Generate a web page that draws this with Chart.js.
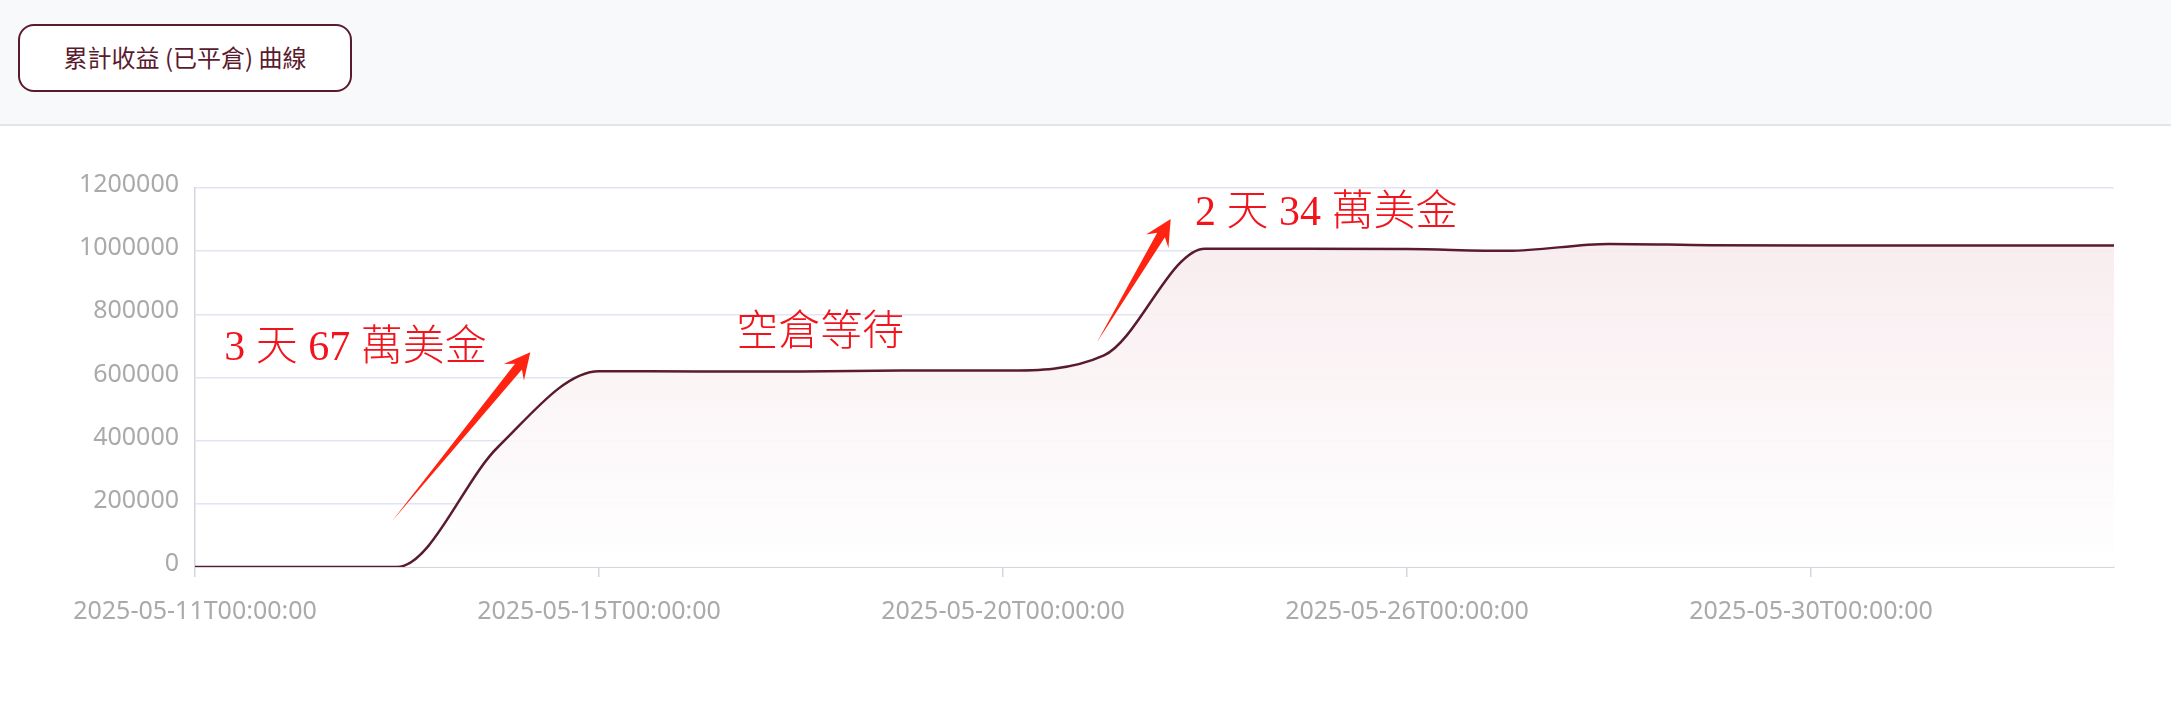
<!DOCTYPE html>
<html lang="zh-Hant">
<head>
<meta charset="utf-8">
<title>累計收益 (已平倉) 曲線</title>
<script src="https://cdn.jsdelivr.net/npm/chart.js@4.4.1/dist/chart.umd.min.js"></script>
<style>
  html, body { margin: 0; padding: 0; background: #fff; }
  body {
    width: 2171px; height: 713px; overflow: hidden; position: relative;
    font-family: "Noto Sans CJK TC", "Noto Sans", sans-serif;
  }
  .topbar {
    position: absolute; left: 0; top: 0; width: 2171px; height: 124px;
    background: #f8f9fb; border-bottom: 2px solid #e1e4e9;
  }
  .tab {
    position: absolute; left: 18px; top: 24px; width: 334px; height: 68px;
    box-sizing: border-box; border: 2px solid #5a1b2e; border-radius: 16px;
    background: #fff; color: #5a1b2e; font-size: 24px; line-height: 62px;
    text-align: center;
  }
  .chart-box { position: absolute; left: 0; top: 127px; width: 2171px; height: 586px; }
</style>
</head>
<body>
<div class="topbar"><div class="tab">累計收益 (已平倉) 曲線</div></div>
<div class="chart-box"><canvas id="pnlChart"></canvas></div>

<script>
// dates on the x axis (category labels)
const dates = [
    "2025-05-11T00:00:00", "2025-05-12T00:00:00", "2025-05-13T00:00:00", "2025-05-14T00:00:00",
    "2025-05-15T00:00:00", "2025-05-16T00:00:00", "2025-05-18T00:00:00", "2025-05-19T00:00:00",
    "2025-05-20T00:00:00", "2025-05-21T00:00:00", "2025-05-22T00:00:00", "2025-05-23T00:00:00",
    "2025-05-26T00:00:00", "2025-05-27T00:00:00", "2025-05-28T00:00:00", "2025-05-29T00:00:00",
    "2025-05-30T00:00:00", "2025-05-31T00:00:00", "2025-06-01T00:00:00", "2025-06-02T00:00:00",
];

// cumulative closed profit
const pnl = [
    0, 0, 0, 380000, 620000, 619000, 619000, 622000, 622000, 670000,
    1008000, 1008000, 1007000, 1001000, 1023000, 1019000, 1018000, 1018000, 1018000, 1018000,
];

// y axis range
const yMin = 0;
const yMax = 1200000;
const yStep = 200000;

// red notes drawn over the chart: [text, x index, y value]
const notes = [
    ["3 天 67 萬美金", 0.29, 690000],
    ["空倉等待", 5.36, 738000],
    ["2 天 34 萬美金", 9.9, 1118000],
];

// arrows: [from index, from value, to index, to value]
const arrows = [
    [1.95, 145000, 3.32, 680000],
    [8.93, 712000, 9.66, 1102000],
];

const lineColor = "#5a1b2e";
const tickColor = "#aaaaaa";
const axisColor = "#d3d6dc";

Chart.defaults.font.family = '"Noto Sans", "Noto Sans CJK TC", sans-serif';

function drawArrow(c, x1, y1, x2, y2) {
    const dx = x2 - x1, dy = y2 - y1, len = Math.hypot(dx, dy);
    const ux = dx / len, uy = dy / len, nx = -uy, ny = ux;
    const head = 26, barb = 13, neck = 4.5;
    const bx = x2 - ux * head, by = y2 - uy * head;
    const kx = x2 - ux * head * 0.72, ky = y2 - uy * head * 0.72;
    c.beginPath();
    c.moveTo(x1, y1);
    c.lineTo(kx + nx * neck, ky + ny * neck);
    c.lineTo(bx + nx * barb, by + ny * barb);
    c.lineTo(x2, y2);
    c.lineTo(bx - nx * barb, by - ny * barb);
    c.lineTo(kx - nx * neck, ky - ny * neck);
    c.closePath();
    c.fill();
}

// draws the red arrows and notes, placed with the chart scales
const notesPlugin = {
    id: "notes",
    afterDraw(chart) {
        const c = chart.ctx;
        const xs = chart.scales.x, ys = chart.scales.y;
        c.save();
        c.fillStyle = "#ff2412";
        arrows.forEach(a => {
            drawArrow(c,
                xs.getPixelForValue(a[0]), ys.getPixelForValue(a[1]),
                xs.getPixelForValue(a[2]), ys.getPixelForValue(a[3]));
        });
        c.fillStyle = "#f2141c";
        c.font = '300 42px "Liberation Serif", "Noto Sans CJK TC", serif';
        c.textAlign = "left";
        c.textBaseline = "middle";
        notes.forEach(n => {
            c.fillText(n[0], xs.getPixelForValue(n[1]), ys.getPixelForValue(n[2]));
        });
        c.restore();
    },
};

new Chart(document.getElementById("pnlChart").getContext("2d"), {
    type: "line",
    data: {
        labels: dates,
        datasets: [
            {
                label: "累計收益",
                data: pnl,
                borderColor: lineColor,
                borderWidth: 2.5,
                pointRadius: 0,
                pointHoverRadius: 0,
                cubicInterpolationMode: "monotone",
                fill: "origin",
                backgroundColor: (ctx) => {
                    const area = ctx.chart.chartArea;
                    if (!area) return "rgba(246,234,237,0.9)";
                    const g = ctx.chart.ctx.createLinearGradient(0, area.top, 0, area.bottom);
                    g.addColorStop(0, "rgba(246,232,235,0.92)");
                    g.addColorStop(1, "rgba(255,255,255,0.92)");
                    return g;
                },
            },
        ],
    },
    options: {
        responsive: true,
        maintainAspectRatio: false,
        animation: false,
        devicePixelRatio: 1,
        layout: { padding: { top: 61, right: 57, bottom: 0, left: 0 } },
        plugins: {
            legend: { display: false },
            tooltip: { enabled: false },
        },
        scales: {
            x: {
                offset: false,
                grid: {
                    display: true,
                    drawOnChartArea: false,
                    drawTicks: true,
                    tickLength: 10,
                    color: axisColor,
                    lineWidth: 1.5,
                },
                border: { display: true, color: axisColor, width: 2 },
                ticks: {
                    autoSkip: true,
                    maxTicksLimit: 5,
                    maxRotation: 0,
                    minRotation: 0,
                    color: tickColor,
                    font: { size: 25 },
                    padding: 20,
                },
                afterFit: (scale) => { scale.height = 146; },
            },
            y: {
                min: yMin,
                max: yMax,
                grid: { color: "#e0e6f1", lineWidth: 1.5, drawTicks: false },
                border: { display: true, color: axisColor, width: 1.5 },
                ticks: {
                    stepSize: yStep,
                    color: tickColor,
                    font: { size: 25 },
                    padding: 16,
                    labelOffset: -3,
                    callback: (v) => String(v),
                },
                afterFit: (scale) => { scale.width = 195; },
            },
        },
    },
    plugins: [notesPlugin],
});
</script>
</body>
</html>
